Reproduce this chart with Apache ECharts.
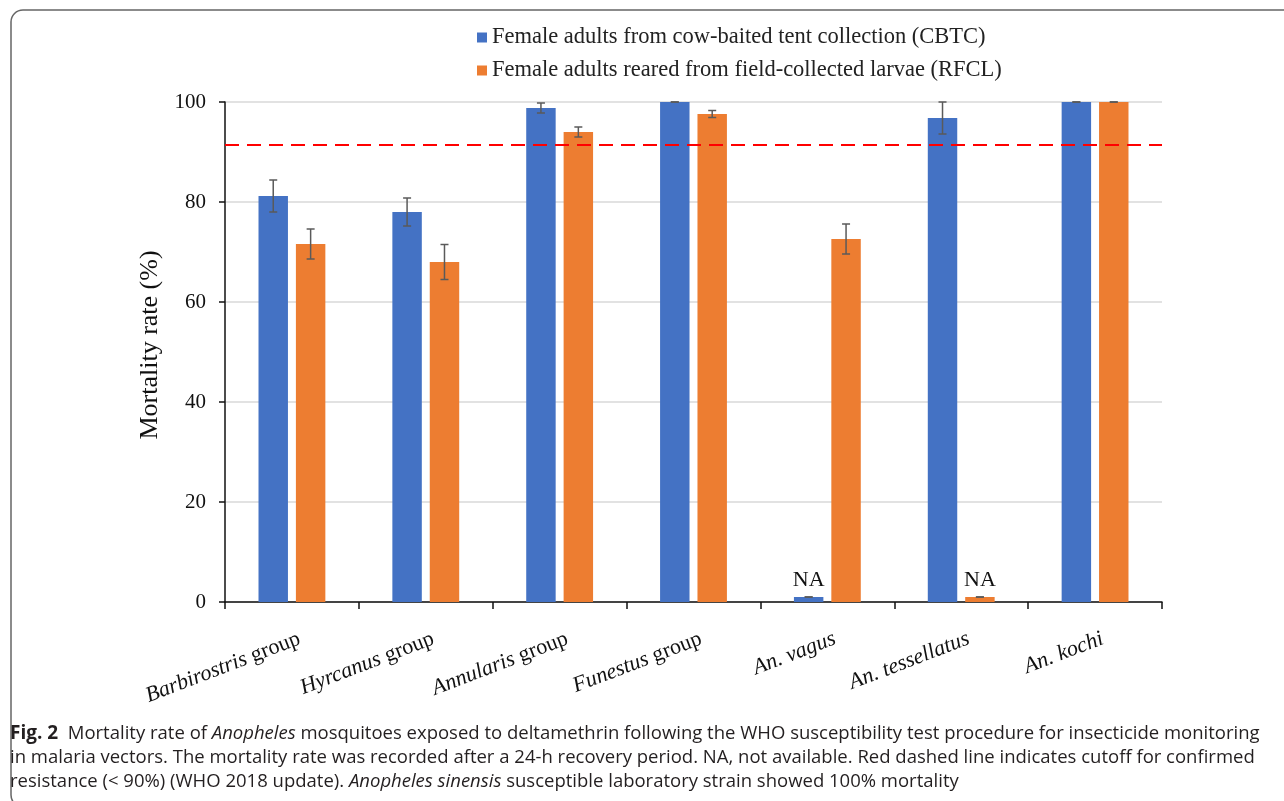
<!DOCTYPE html>
<html>
<head>
<meta charset="utf-8">
<script src="https://cdn.jsdelivr.net/npm/echarts@6/dist/echarts.min.js"></script>
<style>
  html, body { margin: 0; padding: 0; background: #fff; }
  #chart { width: 1284px; height: 801px; }
</style>
</head>
<body>
<div id="chart"></div>
<script>
// categories on the x axis
const categories = ['Barbirostris group', 'Hyrcanus group', 'Annularis group', 'Funestus group', 'An. vagus', 'An. tessellatus', 'An. kochi']
const seriesNames = ['Female adults from cow-baited tent collection (CBTC)', 'Female adults reared from field-collected larvae (RFCL)']
// mortality (%), NA drawn as a stub of 1
const cbtcValues = [81.2, 78, 98.8, 100, 1, 96.8, 100]
const rfclValues = [71.6, 68, 94, 97.6, 72.6, 1, 100]
const cbtcErrors = [3.2, 2.8, 1, 0, 0, 3.2, 0]
const rfclErrors = [3, 3.5, 1, 0.7, 3, 0, 0]
const cbtcNA = [false, false, false, false, true, false, false]
const rfclNA = [false, false, false, false, false, true, false]
const cutoff = 91.5

const BAR_W = 0.22, BAR_GAP = 0.27
const serif = '"Liberation Serif", "Times New Roman", serif'
const sans = '"Open Sans", sans-serif'

function barData(vals, na) {
  return vals.map((v, i) => ({
    value: v,
    label: { show: na[i], formatter: 'NA', position: 'top', distance: 6, color: '#111', fontFamily: serif, fontSize: 22 }
  }))
}

function errData(vals, errs) {
  return vals.map((v, i) => [i, v, errs[i]])
}

function errRender(side) {
  return function (params, api) {
    const band = api.size([1, 0])[0]
    const off = side * band * BAR_W * (1 + BAR_GAP) / 2
    const v = api.value(1), e = api.value(2)
    const top = api.coord([api.value(0), v + e])
    const bot = api.coord([api.value(0), v - e])
    const x = top[0] + off
    const cap = 4
    const st = { stroke: '#5a5a5a', lineWidth: 1.5 }
    return {
      type: 'group',
      children: [
        { type: 'line', shape: { x1: x, y1: top[1], x2: x, y2: bot[1] }, style: st },
        { type: 'line', shape: { x1: x - cap, y1: top[1], x2: x + cap, y2: top[1] }, style: st },
        { type: 'line', shape: { x1: x - cap, y1: bot[1], x2: x + cap, y2: bot[1] }, style: st }
      ]
    }
  }
}

const chart = echarts.init(document.getElementById('chart'))

const option = {
  animation: false,
  backgroundColor: '#fff',
  legend: {
    data: seriesNames,
    orient: 'vertical',
    left: 472,
    top: 21,
    itemWidth: 10,
    itemHeight: 10,
    itemGap: 10,
    icon: 'rect',
    textStyle: { fontFamily: serif, fontSize: 22.5, color: '#222' }
  },
  grid: { left: 225, right: 122, top: 102, bottom: 199 },
  xAxis: {
    type: 'category',
    data: categories,
    axisLine: { lineStyle: { color: '#111', width: 1.5 } },
    axisTick: { show: true, length: 7, lineStyle: { color: '#111', width: 1.5 } },
    axisLabel: {
      interval: 0,
      rotate: 21,
      margin: 39,
      color: '#111',
      fontFamily: serif,
      fontSize: 22,
      padding: [0, -8, 0, 0],
      formatter: function (v) {
        if (v.endsWith(' group')) return '{i|' + v.replace(' group', '') + '} {n|group}'
        return '{i|' + v + '}'
      },
      rich: {
        i: { fontFamily: serif, fontSize: 22, fontStyle: 'italic', color: '#111' },
        n: { fontFamily: serif, fontSize: 22, color: '#111' }
      }
    }
  },
  yAxis: {
    type: 'value',
    min: 0,
    max: 100,
    interval: 20,
    name: 'Mortality rate (%)',
    nameLocation: 'middle',
    nameGap: 61,
    nameTextStyle: { fontFamily: serif, fontSize: 26, color: '#111', padding: [0, 0, 0, 14] },
    axisLine: { show: true, lineStyle: { color: '#111', width: 1.5 } },
    axisTick: { show: true, length: 6, lineStyle: { color: '#111', width: 1.5 } },
    axisLabel: { color: '#111', fontFamily: serif, fontSize: 21, margin: 19 },
    splitLine: { lineStyle: { color: '#d9d9d9', width: 1.5 } }
  },
  series: [
    {
      name: seriesNames[0],
      type: 'bar',
      barWidth: (BAR_W * 100) + '%',
      barGap: (BAR_GAP * 100) + '%',
      itemStyle: { color: '#4472C4' },
      data: barData(cbtcValues, cbtcNA),
      markLine: {
        silent: true,
        symbol: 'none',
        label: { show: false },
        lineStyle: { color: '#ff0000', type: [14, 8], width: 2 },
        data: [{ yAxis: cutoff }]
      }
    },
    {
      name: seriesNames[1],
      type: 'bar',
      barWidth: (BAR_W * 100) + '%',
      itemStyle: { color: '#ED7D31' },
      data: barData(rfclValues, rfclNA)
    },
    { type: 'custom', renderItem: errRender(-1), data: errData(cbtcValues, cbtcErrors), z: 5 },
    { type: 'custom', renderItem: errRender(1), data: errData(rfclValues, rfclErrors), z: 5 }
  ],
  graphic: [
    {
      type: 'rect',
      shape: { x: 11, y: 10, width: 1300, height: 797, r: 12 },
      style: { fill: 'none', stroke: '#666', lineWidth: 1.5 },
      silent: true
    },
    {
      type: 'text',
      left: 10,
      top: 722,
      style: {
        text: '{b|Fig. 2}  Mortality rate of {i|Anopheles} mosquitoes exposed to deltamethrin following the WHO susceptibility test procedure for insecticide monitoring\n' +
          'in malaria vectors. The mortality rate was recorded after a 24-h recovery period. NA, not available. Red dashed line indicates cutoff for confirmed\n' +
          'resistance (< 90%) (WHO 2018 update). {i|Anopheles sinensis} susceptible laboratory strain showed 100% mortality',
        font: '18.5px ' + sans,
        fill: '#231f20',
        lineHeight: 24,
        rich: {
          b: { fontWeight: 'bold', fontSize: 19, fontFamily: sans, fill: '#231f20', lineHeight: 24 },
          i: { fontStyle: 'italic', fontSize: 18.5, fontFamily: sans, fill: '#231f20', lineHeight: 24 }
        }
      }
    }
  ]
}

chart.setOption(option)
</script>
</body>
</html>
